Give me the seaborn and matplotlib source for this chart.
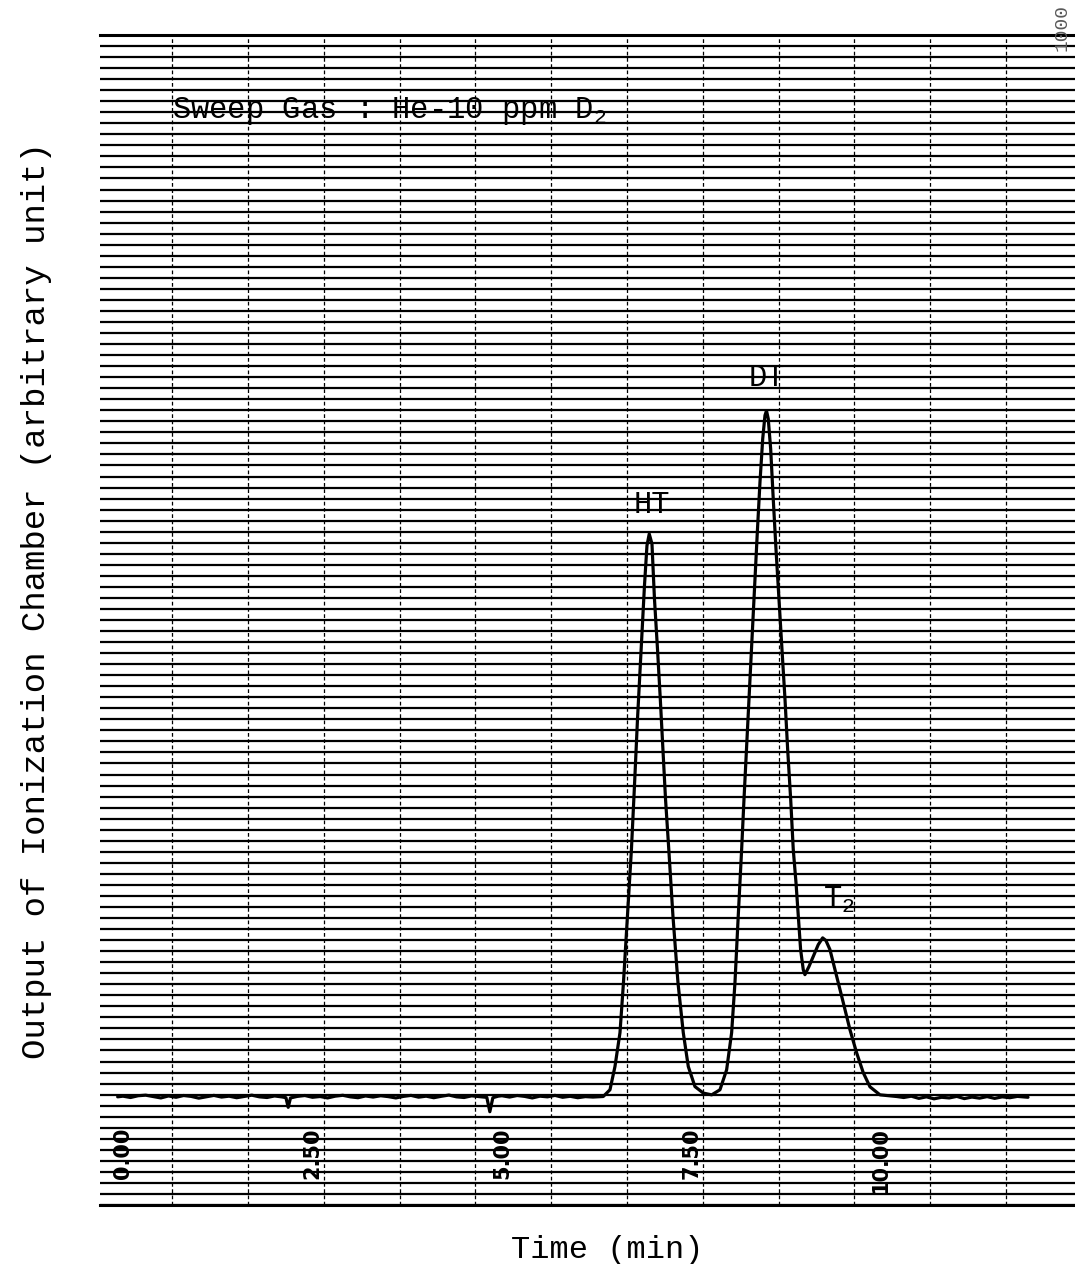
import numpy as np
import pandas as pd
import matplotlib
matplotlib.use("Agg")
import matplotlib.pyplot as plt
from matplotlib.ticker import MultipleLocator, FixedLocator, NullFormatter
import seaborn as sns

# chromatogram (time in min, signal in chart-grid units)
baseline_left_t = [-0.07, 0.0, 0.1, 0.2, 0.3, 0.4, 0.5, 0.6, 0.7, 0.8, 0.9, 1.0, 1.1, 1.2, 1.3,
                   1.4, 1.5, 1.6, 1.7, 1.8, 1.9, 2.0, 2.1, 2.15, 2.18, 2.21, 2.3, 2.4, 2.5, 2.6,
                   2.7, 2.8, 2.9, 3.0, 3.1, 3.2, 3.3, 3.4, 3.5, 3.6, 3.7, 3.8, 3.9, 4.0, 4.1,
                   4.2, 4.3, 4.4, 4.5, 4.6, 4.7, 4.8, 4.84, 4.88, 4.95, 5.0, 5.1, 5.2, 5.3, 5.4,
                   5.5, 5.6, 5.7, 5.8, 5.9, 6.0, 6.1, 6.2]
baseline_left_s = [9.80, 9.86, 9.74, 9.90, 9.95, 9.82, 9.70, 9.88, 9.76, 9.92, 9.84, 9.68, 9.80,
                   9.93, 9.78, 9.86, 9.72, 9.84, 9.95, 9.80, 9.74, 9.88, 9.79, 9.72, 8.85, 9.70,
                   9.84, 9.92, 9.76, 9.83, 9.70, 9.86, 9.94, 9.80, 9.72, 9.88, 9.78, 9.90, 9.82,
                   9.70, 9.84, 9.93, 9.77, 9.86, 9.72, 9.85, 9.96, 9.80, 9.74, 9.89, 9.82, 9.75,
                   8.45, 9.72, 9.86, 9.90, 9.78, 9.92, 9.84, 9.70, 9.86, 9.80, 9.93, 9.76, 9.85,
                   9.72, 9.82, 9.78]

peaks_t = [6.336, 6.425, 6.491, 6.557, 6.603, 6.656, 6.708, 6.748, 6.788, 6.834, 6.880, 6.913,
           6.943, 6.979, 7.012, 7.052, 7.089, 7.124, 7.158, 7.201, 7.256, 7.322, 7.392, 7.458,
           7.546, 7.656, 7.767, 7.876, 7.964, 8.030, 8.074, 8.117, 8.162, 8.193, 8.237, 8.281,
           8.325, 8.369, 8.404, 8.440, 8.470, 8.490, 8.513, 8.545, 8.579, 8.615, 8.654, 8.694,
           8.734, 8.769, 8.809, 8.843, 8.879, 8.909, 8.940, 8.975, 8.997, 9.050, 9.107, 9.173,
           9.231, 9.274, 9.327, 9.416, 9.503, 9.591, 9.679, 9.767, 9.855, 9.987, 10.207]
peaks_s = [9.83, 10.44, 12.55, 15.61, 20.15, 26.16, 32.21, 37.96, 44.01, 50.06, 56.11, 59.74,
           60.80, 59.90, 54.90, 50.36, 45.83, 41.29, 36.75, 32.21, 26.16, 20.15, 15.61, 12.55,
           10.73, 10.14, 9.98, 10.44, 12.25, 15.61, 20.15, 26.16, 32.21, 36.75, 42.80, 48.85,
           54.90, 60.96, 65.49, 69.42, 71.54, 71.96, 71.23, 68.51, 63.97, 59.44, 54.90, 50.36,
           45.83, 41.29, 36.75, 32.21, 29.22, 26.16, 23.14, 21.32, 20.87, 21.60, 22.53, 23.59,
           24.20, 23.96, 23.14, 20.72, 18.33, 15.88, 13.79, 11.98, 10.71, 9.98, 9.83]

baseline_right_t = [10.3, 10.4, 10.5, 10.6, 10.7, 10.8, 10.9, 11.0, 11.1, 11.2, 11.3, 11.4,
                    11.5, 11.6, 11.7, 11.8, 11.94]
baseline_right_s = [9.74, 9.86, 9.66, 9.80, 9.62, 9.76, 9.70, 9.84, 9.64, 9.78, 9.68, 9.82,
                    9.66, 9.80, 9.72, 9.84, 9.76]

tick_values = [0.0, 2.5, 5.0, 7.5, 10.0]
tick_labels = ["0.00", "2.50", "5.00", "7.50", "10.00"]

peak_names = ["HT", "DT", r"T$_\mathrm{2}$"]
peak_label_t = [6.98, 8.50, 9.44]
peak_label_s = [63.4, 74.9, 27.6]

df = pd.DataFrame({
    "time": baseline_left_t + peaks_t + baseline_right_t,
    "signal": baseline_left_s + peaks_s + baseline_right_s,
})

sns.set_style("white")
plt.rcParams["font.family"] = ["Liberation Mono", "DejaVu Sans"]
plt.rcParams["mathtext.fontset"] = "custom"
plt.rcParams["mathtext.rm"] = "Liberation Mono"
plt.rcParams["text.color"] = "black"
plt.rcParams["axes.labelcolor"] = "black"
plt.rcParams["xtick.color"] = "black"

fig = plt.figure(figsize=(10.75, 12.64), dpi=100)
ax = fig.add_axes([100 / 1075, 1 - 1205 / 1264, 975 / 1075, 1170 / 1264])

sns.lineplot(data=df, x="time", y="signal", ax=ax, color="black", linewidth=2.3,
             estimator=None, sort=False, zorder=5)

ax.set_xlim(-0.303, 12.56)
ax.set_ylim(0, 106)

# chart paper ruling
ax.yaxis.set_major_locator(MultipleLocator(1))
ax.yaxis.set_major_formatter(NullFormatter())
ax.tick_params(axis="y", length=0)
ax.grid(axis="y", which="major", color="black", linewidth=1.6)
ax.xaxis.set_minor_locator(MultipleLocator(1, offset=0.65))
ax.grid(axis="x", which="minor", color="black", linewidth=0.9, linestyle=(0, (3, 2)))

ax.xaxis.set_major_locator(FixedLocator(tick_values))
ax.set_xticklabels(tick_labels)
ax.tick_params(axis="x", which="both", length=0, pad=-56, labelrotation=90, labelsize=15)
for lab in ax.get_xticklabels():
    lab.set_fontfamily(["DejaVu Sans"])
    lab.set_fontweight("heavy")

for side in ["left", "right"]:
    ax.spines[side].set_visible(False)
for side in ["top", "bottom"]:
    ax.spines[side].set_linewidth(2.2)
    ax.spines[side].set_color("black")

ax.set_xlabel("Time (min)", fontsize=23)
ax.xaxis.set_label_coords(0.52, -0.026)
ax.set_ylabel("Output of Ionization Chamber (arbitrary unit)", fontsize=24.5)
ax.yaxis.set_label_coords(-0.049, 0.517)

ax.text(0.65, 99.1, r"Sweep Gas : He-10 ppm D$_\mathrm{2}$", fontsize=22, va="center", zorder=6)
for name, t, s in zip(peak_names, peak_label_t, peak_label_s):
    ax.text(t, s, name, fontsize=22, ha="center", va="center", zorder=6)

fig.text(1062 / 1075, 1 - 4 / 1264, "1000", rotation=90, ha="center", va="top",
         fontsize=14, color="0.35")

fig.savefig("out.png", dpi=100)
